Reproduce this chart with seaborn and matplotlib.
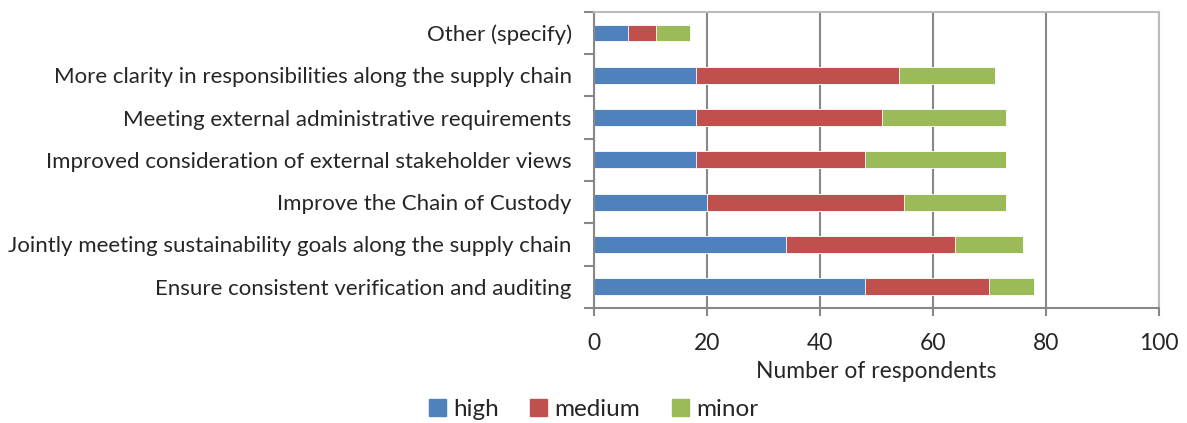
import matplotlib
matplotlib.use('Agg')
import matplotlib.pyplot as plt
import pandas as pd
import seaborn as sb
from matplotlib.patches import Patch

categories = ['Other (specify)',
              'More clarity in responsibilities along the supply chain',
              'Meeting external administrative requirements',
              'Improved consideration of external stakeholder views',
              'Improve the Chain of Custody',
              'Jointly meeting sustainability goals along the supply chain',
              'Ensure consistent verification and auditing']
high = [6, 18, 18, 18, 20, 34, 48]
medium = [5, 36, 33, 30, 35, 30, 22]
minor = [6, 17, 22, 25, 18, 12, 8]

colors = {'high': '#4F81BD', 'medium': '#C0504D', 'minor': '#9BBB59'}

df = pd.DataFrame({'cat': categories, 'high': high, 'medium': medium, 'minor': minor})
df['c_high'] = df['high']
df['c_medium'] = df['high'] + df['medium']
df['c_minor'] = df['c_medium'] + df['minor']

sb.set_style('white')
plt.rcParams['font.family'] = ['Lato', 'DejaVu Sans']

fig = plt.figure(figsize=(11.87, 4.23), dpi=100)
ax = fig.add_axes([0.5004, 0.272, 0.4756, 0.700])

for key in ['minor', 'medium', 'high']:
    sb.barplot(x='c_' + key, y='cat', data=df, orient='h', color=colors[key],
               width=0.4, edgecolor='white', linewidth=0.6, saturation=1, ax=ax)

ax.set_xlim(0, 100)
ax.set_xticks(range(0, 101, 20))
ax.set_ylim(len(categories) - 0.5, -0.5)
ax.set_ylabel('')
ax.set_xlabel('Number of respondents', fontsize=16.5, labelpad=5)
ax.xaxis.grid(True, color='#888888', linewidth=1.5)
ax.set_axisbelow(True)

ax.tick_params(axis='x', labelsize=16.5, bottom=True, length=6, width=1.5,
               color='#888888', direction='out', pad=12)
ax.tick_params(axis='y', which='major', labelsize=16, left=False, length=0, pad=16)
ax.set_yticks([i + 0.5 for i in range(-1, len(categories))], minor=True)
ax.tick_params(axis='y', which='minor', left=True, length=7, width=1.5,
               color='#888888', direction='out')

for s in ['left', 'bottom']:
    ax.spines[s].set_color('#888888')
    ax.spines[s].set_linewidth(1.5)
for s in ['top', 'right']:
    ax.spines[s].set_color('#BBBBBB')
    ax.spines[s].set_linewidth(1.5)

handles = [Patch(color=colors[k], label=k) for k in ['high', 'medium', 'minor']]
fig.legend(handles=handles, loc='lower center', ncol=3, frameon=False, fontsize=17.5,
           handlelength=0.7, handleheight=0.7, handletextpad=0.3, columnspacing=1.3,
           bbox_to_anchor=(0.5, -0.045))

fig.savefig('out.png', dpi=100)
